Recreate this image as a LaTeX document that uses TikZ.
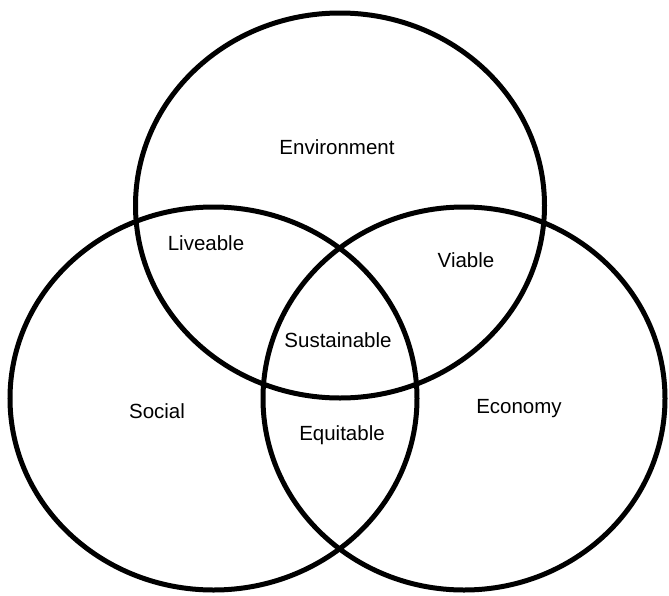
\documentclass[tikz,border=0pt]{standalone}
\usepackage{fontspec}
\setmainfont{Liberation Sans}
\begin{document}
\begin{tikzpicture}[x=1pt,y=-1pt,
  ring/.style={draw=black,line width=5pt},
  lbl/.style={font=\fontsize{20.5}{24}\selectfont,inner sep=0pt}]
\useasboundingbox (0,0) rectangle (669,595);
% three overlapping sets
\draw[ring] (340,205.5) ellipse [x radius=204.5, y radius=192.5];
\draw[ring] (213.5,398.5) ellipse [x radius=203.5, y radius=191.5];
\draw[ring] (464,398.5) ellipse [x radius=201, y radius=191.5];
% region labels
\node[lbl] (env)  at (337,147) {Environment};
\node[lbl] (liv)  at (206,243) {Liveable};
\node[lbl] (via)  at (466,260) {Viable};
\node[lbl] (sus)  at (338,340) {Sustainable};
\node[lbl] (soc)  at (157,411) {Social};
\node[lbl] (equ)  at (342,435) {Equitable};
\node[lbl] (eco)  at (519,409) {Economy};
\end{tikzpicture}
\end{document}
